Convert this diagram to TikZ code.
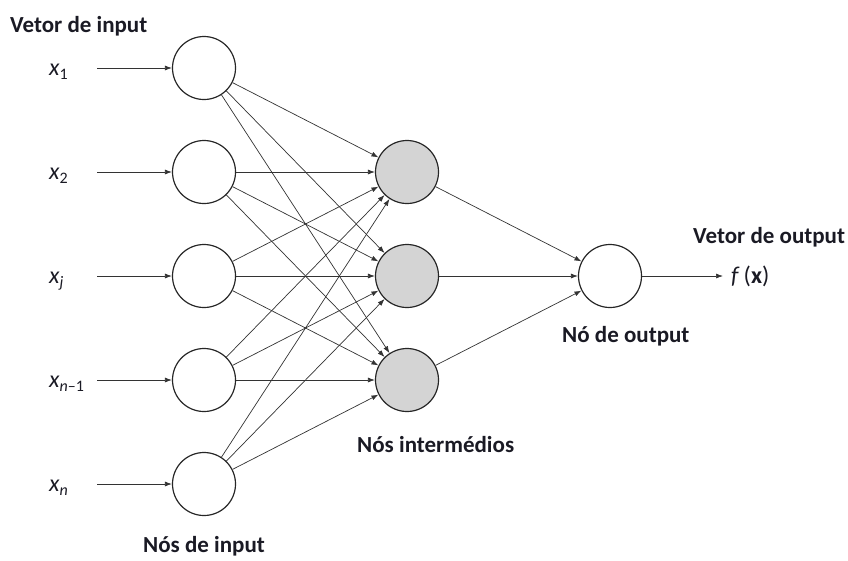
\documentclass[tikz,border=0pt]{standalone}
\usepackage{fontspec}
\setmainfont{Carlito}
\usetikzlibrary{arrows.meta}
\definecolor{txt}{HTML}{1A1A24}
\definecolor{linec}{HTML}{333333}
\definecolor{hid}{HTML}{D4D4D4}
\newcommand{\xsub}[1]{{\itshape x}\raisebox{-0.35ex}{\fontsize{16}{16}\selectfont #1}}
\begin{document}
\begin{tikzpicture}[x=1pt,y=-1pt,
  neuron/.style={circle,draw=black!85,line width=1.2pt,minimum size=63pt,inner sep=0pt,fill=white},
  hidden/.style={neuron,fill=hid},
  conn/.style={draw=linec,line width=0.7pt,-{Latex[length=7pt,width=5pt]}},
  lbl/.style={font=\fontsize{23}{23}\selectfont\bfseries,text=txt,inner sep=0pt},
  xl/.style={font=\fontsize{24}{24}\selectfont,text=txt,inner sep=0pt,anchor=base west}]
\useasboundingbox (0,0) rectangle (848,560);
% input nodes
\foreach \i/\y in {1/68,2/172,3/276,4/380,5/484}{
  \node[neuron] (in\i) at (204,\y) {};
  \coordinate (s\i) at (97,\y);
}
% hidden nodes
\foreach \j/\y in {1/172,2/276,3/380}{
  \node[hidden] (h\j) at (407,\y) {};
}
\node[neuron] (out) at (610,276) {};
% labels
\node[xl] (l1) at (49,75) {\xsub{1}};
\node[xl] (l2) at (49,179) {\xsub{2}};
\node[xl] (l3) at (49,283) {\xsub{\itshape j}};
\node[xl] (l4) at (49,387) {\xsub{\itshape n\upshape–1}};
\node[xl] (l5) at (49,491) {\xsub{\itshape n}};
\node[xl] (fx) at (731,283) {\textit{f}\,(\textbf{x})};
\node[lbl,anchor=base west] (t1) at (10,32) {Vetor de input};
\node[lbl,anchor=base west] (t2) at (143,552) {Nós de input};
\node[lbl,anchor=base west] (t3) at (357,452) {Nós intermédios};
\node[lbl,anchor=base west] (t4) at (562,342) {Nó de output};
\node[lbl,anchor=base west] (t5) at (693,243) {Vetor de output};
% connectors
\foreach \i in {1,...,5}{
  \draw[conn] (s\i) -- (in\i);
  \foreach \j in {1,2,3}{
    \draw[conn] (in\i) -- (h\j);
  }
}
\foreach \j in {1,2,3}{
  \draw[conn] (h\j) -- (out);
}
\coordinate (fe) at (723,276);
\draw[conn] (out) -- (fe);
\end{tikzpicture}
\end{document}
